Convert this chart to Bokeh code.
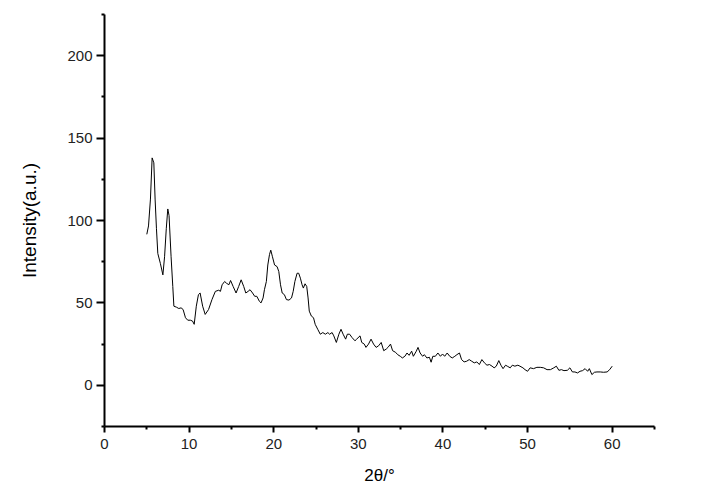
from bokeh.plotting import figure
from bokeh.models import FixedTicker, Range1d
from bokeh.embed import file_html
from bokeh.resources import INLINE

two_theta = [
    5.0, 5.2, 5.43, 5.63, 5.83, 5.98, 6.14, 6.3, 6.6, 6.9, 7.1, 7.3, 7.48, 7.63, 7.87, 8.07, 8.2, 8.5,
    8.78, 9.05, 9.29, 9.57, 9.84, 10.15, 10.4, 10.6, 10.85, 11.1, 11.3, 11.6, 11.9, 12.3, 12.7, 13.1,
    13.5, 13.7, 13.9, 14.2, 14.4, 14.7, 14.9, 15.2, 15.55, 15.86, 16.15, 16.45, 16.7, 16.97, 17.2,
    17.5, 17.75, 18.0, 18.3, 18.5, 18.74, 18.9, 19.13, 19.3, 19.5, 19.65, 19.85, 20.1, 20.4, 20.6,
    20.8, 21.0, 21.26, 21.5, 21.8, 22.1, 22.3, 22.5, 22.76, 22.95, 23.15, 23.35, 23.5, 23.7, 23.9,
    24.06, 24.2, 24.45, 24.7, 24.9, 25.2, 25.5, 25.8, 26.1, 26.4, 26.6, 26.9, 27.1, 27.4, 27.7,
    27.95, 28.2, 28.5, 28.7, 28.97, 29.25, 29.6, 29.8, 30.2, 30.4, 30.7, 30.9, 31.2, 31.5, 31.8,
    32.1, 32.4, 32.7, 33.0, 33.3, 33.5, 33.8, 34.05, 34.4, 34.65, 34.96, 35.2, 35.5, 35.75, 36.0,
    36.3, 36.5, 36.85, 37.05, 37.3, 37.6, 37.8, 38.1, 38.4, 38.6, 38.8, 39.1, 39.4, 39.7, 39.95,
    40.2, 40.5, 40.8, 41.1, 41.4, 41.65, 41.95, 42.2, 42.5, 42.8, 43.1, 43.4, 43.7, 44.0, 44.3,
    44.6, 44.9, 45.2, 45.5, 45.8, 46.05, 46.3, 46.6, 46.85, 47.1, 47.4, 47.6, 47.95, 48.2, 48.5,
    48.85, 49.1, 49.45, 49.7, 50.0, 50.3, 50.7, 51.1, 51.5, 51.9, 52.3, 52.7, 53.1, 53.4, 53.7,
    54.0, 54.3, 54.7, 55.0, 55.3, 55.6, 55.9, 56.2, 56.5, 56.8, 57.1, 57.3, 57.6, 57.9, 58.2,
    58.6, 58.97, 59.4, 59.7, 60.0,
]
intensity = [
    91.6, 96.7, 113, 138, 135, 113, 95, 80, 74, 67, 78, 95, 107, 103, 78, 60, 48, 47.4,
    46.6, 47, 46, 41, 39.5, 39.5, 39, 37, 48, 55, 56, 48, 43, 46, 52, 57,
    57.7, 57, 61, 63, 62, 61, 63.6, 60, 56, 60, 64, 60, 56, 57, 58,
    56, 54, 54, 51, 50, 53, 58, 63, 73, 79.4, 82, 78, 73, 72, 69,
    61, 56, 55, 52, 51.7, 53, 57, 63, 68, 68, 65, 61, 59, 61.6, 60,
    53, 45, 42, 41, 37, 34, 31, 32, 31, 32, 31, 32, 30, 26, 31,
    34, 31, 28, 31, 31, 29, 27, 28, 30, 26, 25, 23, 25, 28, 25,
    23, 24, 26, 21, 22, 23, 25, 21, 20, 18.6, 17.6, 16.6, 17.6, 19.6, 18.2,
    20.7, 17.6, 20.7, 23, 19.6, 17.6, 18.6, 16.6, 17, 14, 17.6, 17.6, 19.6, 17.6, 19,
    17.6, 19.6, 17.6, 16.6, 17.6, 18.6, 19.6, 15.6, 14.2, 14.6, 15.6, 14.6, 13.6, 14.2, 12.6,
    15.6, 13.6, 12.2, 12.6, 11.6, 10.6, 11.6, 15, 12.2, 10.1, 12.2, 11.6, 10.6, 12.2, 11.6,
    12.2, 11.6, 10.6, 9.5, 8.5, 10.6, 10.1, 10.9, 10.9, 10.6, 9.5, 9.5, 10.6, 11.6, 9.1,
    9.5, 8.9, 9.1, 10.6, 8.1, 8.1, 7.5, 8.5, 8.9, 10.1, 8.5, 10.1, 6.5, 7.9, 8.1,
    8.1, 7.9, 8.1, 9.5, 11.6,
]
x_ticks = [0, 10, 20, 30, 40, 50, 60]
x_minor = [5, 15, 25, 35, 45, 55, 65]
y_ticks = [0, 50, 100, 150, 200]
y_minor = [-25, 25, 75, 125, 175, 225]

p = figure(width=685, height=490, output_backend="svg", toolbar_location=None,
           x_range=Range1d(0, 65), y_range=Range1d(-25, 225),
           min_border_left=104, min_border_right=31, min_border_top=14, min_border_bottom=64)
p.outline_line_color = None
p.xgrid.visible = False
p.ygrid.visible = False
p.background_fill_color = "white"
p.border_fill_color = "white"

p.line(two_theta, intensity, line_color="black", line_width=1)

FONT = "Liberation Sans"
for ax in (p.xaxis[0], p.yaxis[0]):
    ax.axis_line_width = 2
    ax.axis_line_color = "black"
    ax.major_tick_line_width = 2
    ax.minor_tick_line_width = 2
    ax.major_tick_out = 6
    ax.major_tick_in = 0
    ax.minor_tick_out = 3
    ax.minor_tick_in = 0
    ax.major_label_text_font = FONT
    ax.major_label_text_font_size = "15px"
    ax.major_label_text_color = "#222222"
    ax.axis_label_text_font = FONT
    ax.axis_label_text_font_style = "normal"
    ax.axis_label_text_color = "black"

p.yaxis[0].major_tick_out = 8
p.xaxis[0].axis_label_text_font_size = "17px"
p.yaxis[0].axis_label_text_font_size = "19px"
p.xaxis[0].ticker = FixedTicker(ticks=x_ticks, minor_ticks=x_minor)
p.yaxis[0].ticker = FixedTicker(ticks=y_ticks, minor_ticks=y_minor)
p.xaxis[0].axis_label = "2θ/°"
p.yaxis[0].axis_label = "Intensity(a.u.)"
p.xaxis[0].major_label_standoff = 6
p.yaxis[0].major_label_standoff = 4
p.xaxis[0].axis_label_standoff = 14
p.yaxis[0].axis_label_standoff = 24

open("out.html", "w").write(file_html(p, INLINE))
